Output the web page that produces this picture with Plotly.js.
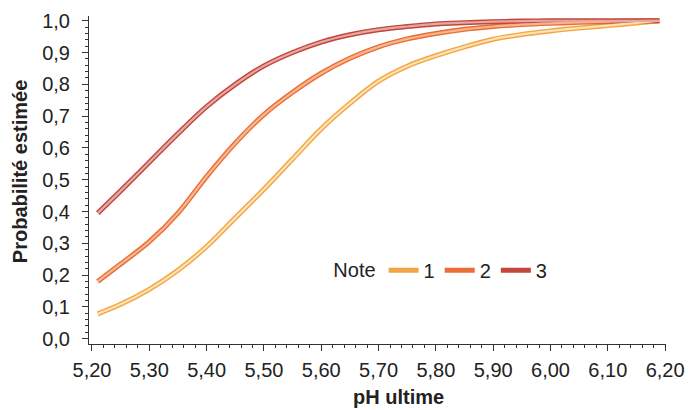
<!DOCTYPE html>
<html>
<head>
<meta charset="utf-8">
<script src="https://cdn.plot.ly/plotly-3.0.1.min.js"></script>
<style>html,body{margin:0;padding:0;background:#fff;}#chart{width:688px;height:410px;}</style>
</head>
<body>
<div id="chart"></div>
<script>
const pH = [5.21, 5.25, 5.30, 5.35, 5.40, 5.45, 5.50, 5.55, 5.60, 5.65, 5.70, 5.75, 5.80, 5.85, 5.90, 5.95, 6.00, 6.05, 6.10, 6.15, 6.19];
const note1 = [0.078, 0.108, 0.155, 0.215, 0.29, 0.38, 0.47, 0.565, 0.66, 0.74, 0.81, 0.857, 0.89, 0.918, 0.942, 0.957, 0.968, 0.977, 0.985, 0.993, 1.0];
const note2 = [0.18, 0.235, 0.305, 0.395, 0.51, 0.615, 0.705, 0.775, 0.835, 0.882, 0.918, 0.943, 0.96, 0.973, 0.982, 0.988, 0.992, 0.995, 0.997, 0.999, 1.0];
const note3 = [0.395, 0.465, 0.555, 0.645, 0.73, 0.80, 0.858, 0.90, 0.933, 0.956, 0.972, 0.982, 0.99, 0.994, 0.997, 0.999, 1.0, 1.0, 1.0, 1.0, 1.0];
const seriesNames = ['1', '2', '3'];
const xTicks = [5.2, 5.3, 5.4, 5.5, 5.6, 5.7, 5.8, 5.9, 6.0, 6.1, 6.2];
const yTicks = [0, 0.1, 0.2, 0.3, 0.4, 0.5, 0.6, 0.7, 0.8, 0.9, 1.0];
const outerColors = ['#f2a546', '#e86e36', '#c0463e'];
const innerColors = ['#fde2b2', '#f8b690', '#e6a8a0'];
const seriesValues = [note1, note2, note3];

const traces = [];
seriesValues.forEach((vals, i) => {
  traces.push({x: pH, y: vals, type: 'scatter', mode: 'lines', name: seriesNames[i],
    line: {color: outerColors[i], width: 5, shape: 'spline', smoothing: 1},
    showlegend: true, hoverinfo: 'skip'});
});
seriesValues.forEach((vals, i) => {
  traces.push({x: pH, y: vals, type: 'scatter', mode: 'lines', name: seriesNames[i],
    line: {color: innerColors[i], width: 2.2, shape: 'spline', smoothing: 1},
    showlegend: false, hoverinfo: 'skip'});
});

const font = {family: 'Liberation Sans, Arial, sans-serif', color: '#222'};
const f = (s) => Object.assign({size: s}, font);
const layout = {
  width: 688, height: 410,
  margin: {l: 89, r: 22, t: 16, b: 66},
  paper_bgcolor: '#fff', plot_bgcolor: '#fff',
  separators: ', ',
  font: f(20),
  showlegend: true,
  legend: {orientation: 'h', x: 0.42, y: 0.225, xanchor: 'left', yanchor: 'middle',
    title: {text: 'Note', side: 'left', font: f(20)},
    font: f(20), bgcolor: 'rgba(0,0,0,0)', traceorder: 'normal',
    itemwidth: 30, tracegroupgap: 0},
  xaxis: {range: [5.1948, 6.2015], tickvals: xTicks,
    tickformat: '.2f', showgrid: false, zeroline: false, showline: true, linecolor: '#333', linewidth: 1,
    ticks: 'outside', ticklen: 6, tickcolor: '#333', tickfont: f(20), ticklabelstandoff: 2,
    minor: {dtick: 0.02, tick0: 5.2, ticks: 'outside', ticklen: 3, tickcolor: '#333', showgrid: false}},
  yaxis: {range: [-0.0167, 1.015], tickvals: yTicks,
    tickformat: '.1f', showgrid: false, zeroline: false, showline: true, linecolor: '#333', linewidth: 1,
    ticks: 'outside', ticklen: 6, tickcolor: '#333', tickfont: f(20), ticklabelstandoff: 8,
    minor: {dtick: 0.02, tick0: 0, ticks: 'outside', ticklen: 3, tickcolor: '#333', showgrid: false}},
  annotations: [
    {text: '<b>pH ultime</b>', xref: 'paper', yref: 'paper', x: 0.537, y: -0.163,
      xanchor: 'center', yanchor: 'middle', showarrow: false, font: f(20)},
    {text: '<b>Probabilité estimée</b>', xref: 'paper', yref: 'paper', x: -0.1196, y: 0.527,
      xanchor: 'center', yanchor: 'middle', textangle: -90, showarrow: false, font: f(20)}
  ]
};
Plotly.newPlot('chart', traces, layout, {staticPlot: true, displayModeBar: false});
</script>
</body>
</html>
